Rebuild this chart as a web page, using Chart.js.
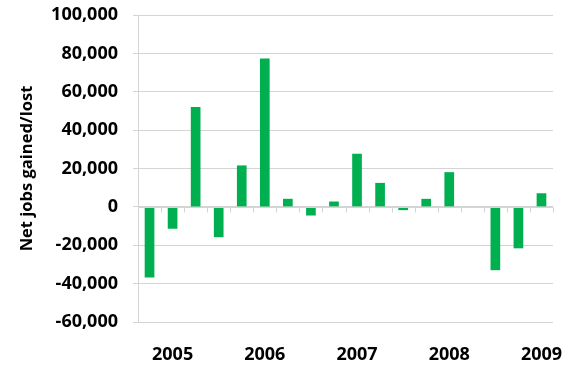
<!DOCTYPE html>
<html>
<head>
<meta charset="utf-8">
<script src="https://cdn.jsdelivr.net/npm/chart.js@4/dist/chart.umd.min.js"></script>
<style>
  html, body { margin: 0; padding: 0; background: #ffffff; }
  #wrap { width: 571px; height: 366px; position: relative; }
</style>
</head>
<body>
<div id="wrap"><canvas id="chart"></canvas></div>
<script>
// Quarterly net change in jobs; a year label sits under every fourth quarter.
const quarters = [
  '2004 Q4', '2005 Q1', '2005 Q2', '2005 Q3',
  '2005 Q4', '2006 Q1', '2006 Q2', '2006 Q3',
  '2006 Q4', '2007 Q1', '2007 Q2', '2007 Q3',
  '2007 Q4', '2008 Q1', '2008 Q2', '2008 Q3',
  '2008 Q4', '2009 Q1'
];
const yearLabels = [
  '', '2005', '', '',
  '', '2006', '', '',
  '', '2007', '', '',
  '', '2008', '', '',
  '', '2009'
];
const netJobs = [
  -36800, -11400, 52000, -15800,
  21600, 77300, 4200, -4500,
  2800, 27700, 12500, -1700,
  4200, 18100, -300, -33000,
  -21600, 7100
];
const yMin = -60000;
const yMax = 100000;
const yStep = 20000;

const GRID = '#d4d4d4';
const FONT = '"Open Sans", Lato, "Liberation Sans", sans-serif';

// Category axis drawn along the zero line: a rule plus small ticks
// hanging below it at every category boundary.
const zeroAxis = {
  id: 'zeroAxis',
  afterDatasetsDraw(chart) {
    const x = chart.scales.x;
    const y0 = Math.round(chart.scales.y.getPixelForValue(0)) + 0.5;
    const ctx = chart.ctx;
    const n = chart.data.labels.length;
    const half = (x.getPixelForValue(1) - x.getPixelForValue(0)) / 2;
    ctx.save();
    ctx.strokeStyle = GRID;
    ctx.lineWidth = 1;
    ctx.beginPath();
    ctx.moveTo(x.left, y0);
    ctx.lineTo(x.right, y0);
    for (let i = 0; i < n; i++) {
      const bx = Math.round(x.getPixelForValue(i) + half) + 0.5;
      ctx.moveTo(bx, y0);
      ctx.lineTo(bx, y0 + 5);
    }
    ctx.stroke();
    ctx.restore();
  }
};

new Chart(document.getElementById('chart'), {
  type: 'bar',
  data: {
    labels: quarters,
    datasets: [{
      data: netJobs,
      backgroundColor: '#00b050',
      borderWidth: 0,
      barPercentage: 0.42,
      categoryPercentage: 1.0
    }]
  },
  plugins: [zeroAxis],
  options: {
    responsive: true,
    maintainAspectRatio: false,
    animation: false,
    layout: { padding: { left: 17, right: 18, top: 15, bottom: 0 } },
    plugins: {
      legend: { display: false },
      tooltip: { enabled: false }
    },
    scales: {
      x: {
        type: 'category',
        position: 'bottom',
        offset: true,
        afterFit: s => { s.height = 44; s.paddingLeft = 0; s.paddingRight = 0; },
        grid: { display: false, drawTicks: false },
        border: { display: false },
        ticks: {
          autoSkip: false,
          maxRotation: 0,
          padding: 22,
          color: '#000',
          font: { family: FONT, size: 18, weight: 'bold' },
          callback: (v, i) => yearLabels[i]
        }
      },
      y: {
        min: yMin,
        max: yMax,
        afterFit: s => { s.width = 121; s.paddingTop = 0; s.paddingBottom = 0; },
        grid: { color: GRID, tickLength: 5, drawTicks: true },
        border: { display: true, color: GRID },
        ticks: {
          stepSize: yStep,
          padding: 15,
          color: '#000',
          font: { family: FONT, size: 18, weight: 'bold' },
          callback: v => v.toLocaleString('en-US')
        },
        title: {
          display: true,
          text: 'Net jobs gained/lost',
          color: '#000',
          font: { family: FONT, size: 16.5, weight: 'bold' },
          padding: { top: 0, bottom: 14 }
        }
      }
    }
  }
});
</script>
</body>
</html>
